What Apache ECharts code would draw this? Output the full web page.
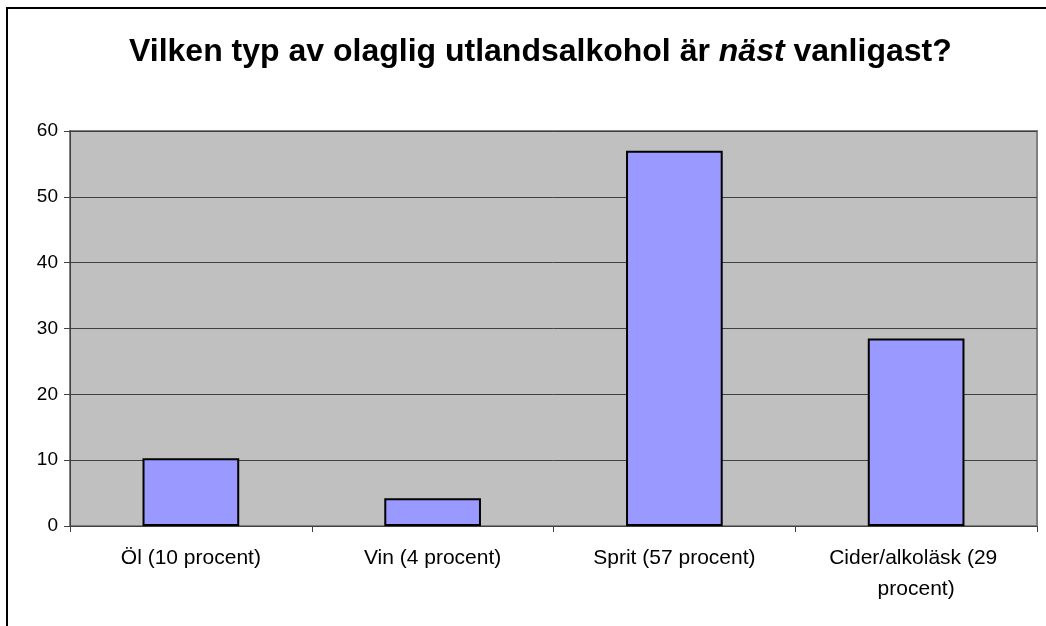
<!DOCTYPE html>
<html>
<head>
<meta charset="utf-8">
<script src="https://cdn.jsdelivr.net/npm/echarts@6/dist/echarts.min.js"></script>
<style>
  html, body { margin: 0; padding: 0; background: #fff; }
  #chart { width: 1046px; height: 626px; }
</style>
</head>
<body>
<div id="chart"></div>
<script>
// kategorier och värden (procent)
const categories = ['Öl (10 procent)', 'Vin (4 procent)', 'Sprit (57 procent)', 'Cider/alkoläsk (29 procent)'];
const values = [10.3, 4.2, 57, 28.5];
const yTicks = [0, 10, 20, 30, 40, 50, 60];

const chart = echarts.init(document.getElementById('chart'));

const font = 'Arial, "Liberation Sans", sans-serif';

const option = {
  animation: false,
  backgroundColor: '#fff',
  textStyle: { fontFamily: font },
  title: {
    text: '{b|Vilken typ av olaglig utlandsalkohol är }{i|näst}{b| vanligast?}',
    left: 124,
    top: 31,
    textStyle: {
      rich: {
        b: { fontSize: 32, fontWeight: 'bold', color: '#000', fontFamily: font },
        i: { fontSize: 32, fontWeight: 'bold', fontStyle: 'italic', color: '#000', fontFamily: font }
      }
    }
  },
  graphic: [
    {
      // ram runt diagrammet
      type: 'rect',
      shape: { x: 7, y: 8, width: 1100, height: 700 },
      style: { fill: 'none', stroke: '#000', lineWidth: 2 },
      silent: true
    }
  ],
  grid: {
    left: 70,
    right: 9,
    top: 131,
    bottom: 100,
    show: true,
    backgroundColor: '#c0c0c0',
    borderColor: '#808080',
    borderWidth: 2
  },
  xAxis: {
    type: 'category',
    data: categories,
    axisLine: { show: true, lineStyle: { color: '#404040', width: 1 } },
    axisTick: { show: true, alignWithLabel: false, length: 6, lineStyle: { color: '#404040' } },
    axisLabel: {
      color: '#000',
      fontSize: 21,
      margin: 17,
      lineHeight: 31,
      width: 220,
      overflow: 'break',
      interval: 0
    }
  },
  yAxis: {
    type: 'value',
    min: yTicks[0],
    max: yTicks[yTicks.length - 1],
    interval: 10,
    axisLine: { show: true, lineStyle: { color: '#404040', width: 1 } },
    axisTick: { show: true, length: 6, lineStyle: { color: '#404040' } },
    axisLabel: { color: '#000', fontSize: 19, margin: 12 },
    splitLine: { show: true, lineStyle: { color: '#404040', width: 1 } }
  },
  series: [
    {
      type: 'bar',
      data: values,
      barWidth: '40%',
      itemStyle: { color: '#9999ff', borderColor: '#000', borderWidth: 2 }
    }
  ]
};

chart.setOption(option);
</script>
</body>
</html>
